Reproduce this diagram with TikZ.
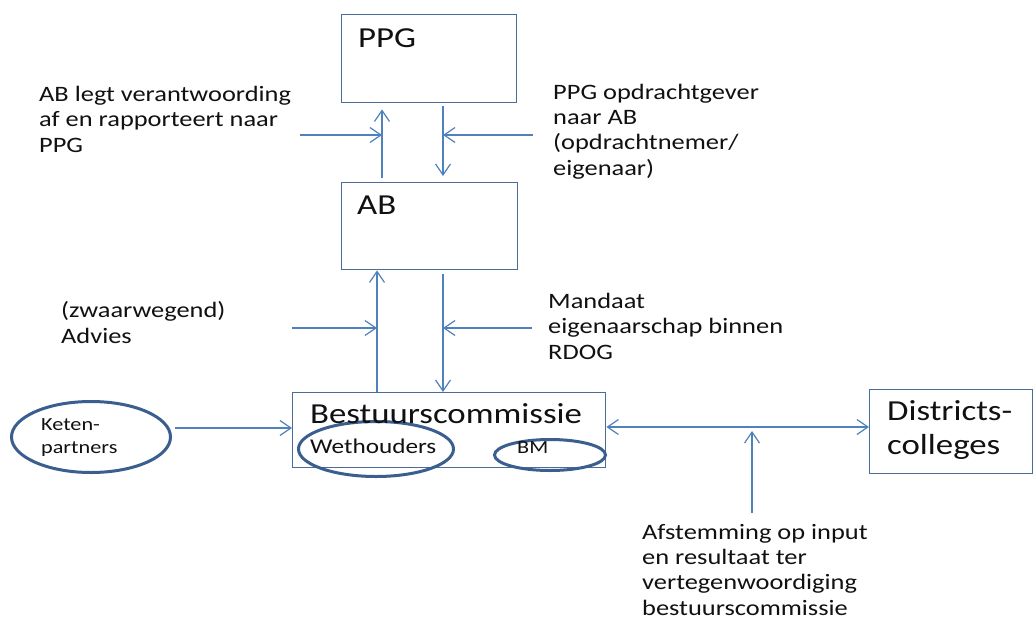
\documentclass[tikz,border=0pt]{standalone}
\usepackage{fontspec}
\setmainfont{Carlito}[FakeStretch=1.2]
\usetikzlibrary{arrows.meta,shapes.geometric}
\definecolor{arrowc}{HTML}{4F81BD}
\definecolor{boxc}{HTML}{4A6C98}
\definecolor{ellc}{HTML}{3A5F8E}
\definecolor{txt}{HTML}{111111}
\begin{document}
\begin{tikzpicture}[x=1pt,y=-1pt,
  box/.style={draw=boxc,line width=1.4pt,inner sep=0pt,anchor=north west},
  ring/.style={draw=ellc,line width=3pt,ellipse,inner sep=0pt},
  arr/.style={draw=arrowc,line width=1.2pt,-{Straight Barb[length=11pt,width=15pt,line width=1.2pt]}},
  darr/.style={draw=arrowc,line width=1.2pt,{Straight Barb[length=11pt,width=15pt,line width=1.2pt]}-{Straight Barb[length=11pt,width=15pt,line width=1.2pt]}},
  big/.style={font=\fontsize{29}{34}\selectfont,text=txt,inner sep=0pt,anchor=base west},
  lbl/.style={font=\fontsize{22}{25.3}\selectfont,text=txt,inner sep=0pt,anchor=base west,align=left},
  sml/.style={font=\fontsize{18.5}{23}\selectfont,text=txt,inner sep=0pt,anchor=base west,align=left}]
\useasboundingbox (0,0) rectangle (1034,619);
\fill[white] (0,0) rectangle (1034,619);

% boxes
\node[box,minimum width=175pt,minimum height=88pt] (ppg) at (341,14) {};
\node[box,minimum width=176pt,minimum height=87pt] (ab) at (341,182) {};
\node[box,minimum width=313pt,minimum height=75pt] (bc) at (292,392) {};
\node[box,minimum width=163pt,minimum height=84pt] (dc) at (869,389) {};

% ellipses
\node[ring,minimum width=159pt,minimum height=71pt] (keten) at (91,437) {};
\node[ring,minimum width=155pt,minimum height=55pt] (weth) at (376,449) {};
\node[ring,minimum width=111pt,minimum height=31pt] (bm) at (550,455) {};

% box titles (anchor = baseline of last line)
\node[big] (tppg) at (358,47) {PPG};
\node[big] (tab) at (357,214) {AB};
\node[big] (tbc) at (310,423) {Bestuurscommissie};
\node[big,align=left] (tdc) at (887,454) {Districts-\\colleges};
\node[font=\fontsize{21}{24}\selectfont,text=txt,inner sep=0pt,anchor=base west] (tweth) at (310,453) {Wethouders};
\node[sml] (tbm) at (517,453) {BM};
\node[sml] (tket) at (41,453) {Keten-\\partners};

% labels
\node[lbl] (l1) at (39,152) {AB legt verantwoording\\af en rapporteert naar\\PPG};
\node[lbl] (l2) at (553,175) {PPG opdrachtgever\\naar AB\\(opdrachtnemer/\\eigenaar)};
\node[lbl] (l3) at (61,343) {(zwaarwegend)\\Advies};
\node[lbl] (l4) at (548,359) {Mandaat\\eigenaarschap binnen\\RDOG};
\node[lbl] (l5) at (642,615) {Afstemming op input\\en resultaat ter\\vertegenwoordiging\\bestuurscommissie};

% reference x positions
\coordinate (xa) at (382,0);
\coordinate (xb) at (443,0);
\coordinate (xc) at (377,0);

% PPG <-> AB
\draw[arr,shorten <=4pt,shorten >=6pt] (ab.north -| xa) -- (ppg.south -| xa);
\draw[arr,shorten <=3pt,shorten >=6pt] (ppg.south -| xb) -- (ab.north -| xb);
\coordinate (in1) at (300,135);
\coordinate (m1) at (382,135);
\coordinate (in2) at (533,135);
\coordinate (m2) at (443,135);
\draw[arr] (in1) -- (m1);
\draw[arr] (in2) -- (m2);

% AB <-> Bestuurscommissie
\draw[arr] (bc.north -| xc) -- (ab.south -| xc);
\draw[arr,shorten <=4pt] (ab.south -| xb) -- (bc.north -| xb);
\coordinate (in3) at (292,328);
\coordinate (m3) at (377,328);
\coordinate (in4) at (532,328);
\coordinate (m4) at (443,328);
\draw[arr] (in3) -- (m3);
\draw[arr] (in4) -- (m4);

% Keten -> Bestuurscommissie
\coordinate (kk) at (0,428);
\draw[arr] (keten.east |- kk) ++(3,0) -- (bc.west |- kk);

% Bestuurscommissie <-> Districts
\coordinate (dd) at (0,427);
\draw[darr] (bc.east |- dd) -- (dc.west |- dd);
\coordinate (v0) at (752,513);
\coordinate (v1) at (752,431);
\draw[arr] (v0) -- (v1);
\end{tikzpicture}
\end{document}
